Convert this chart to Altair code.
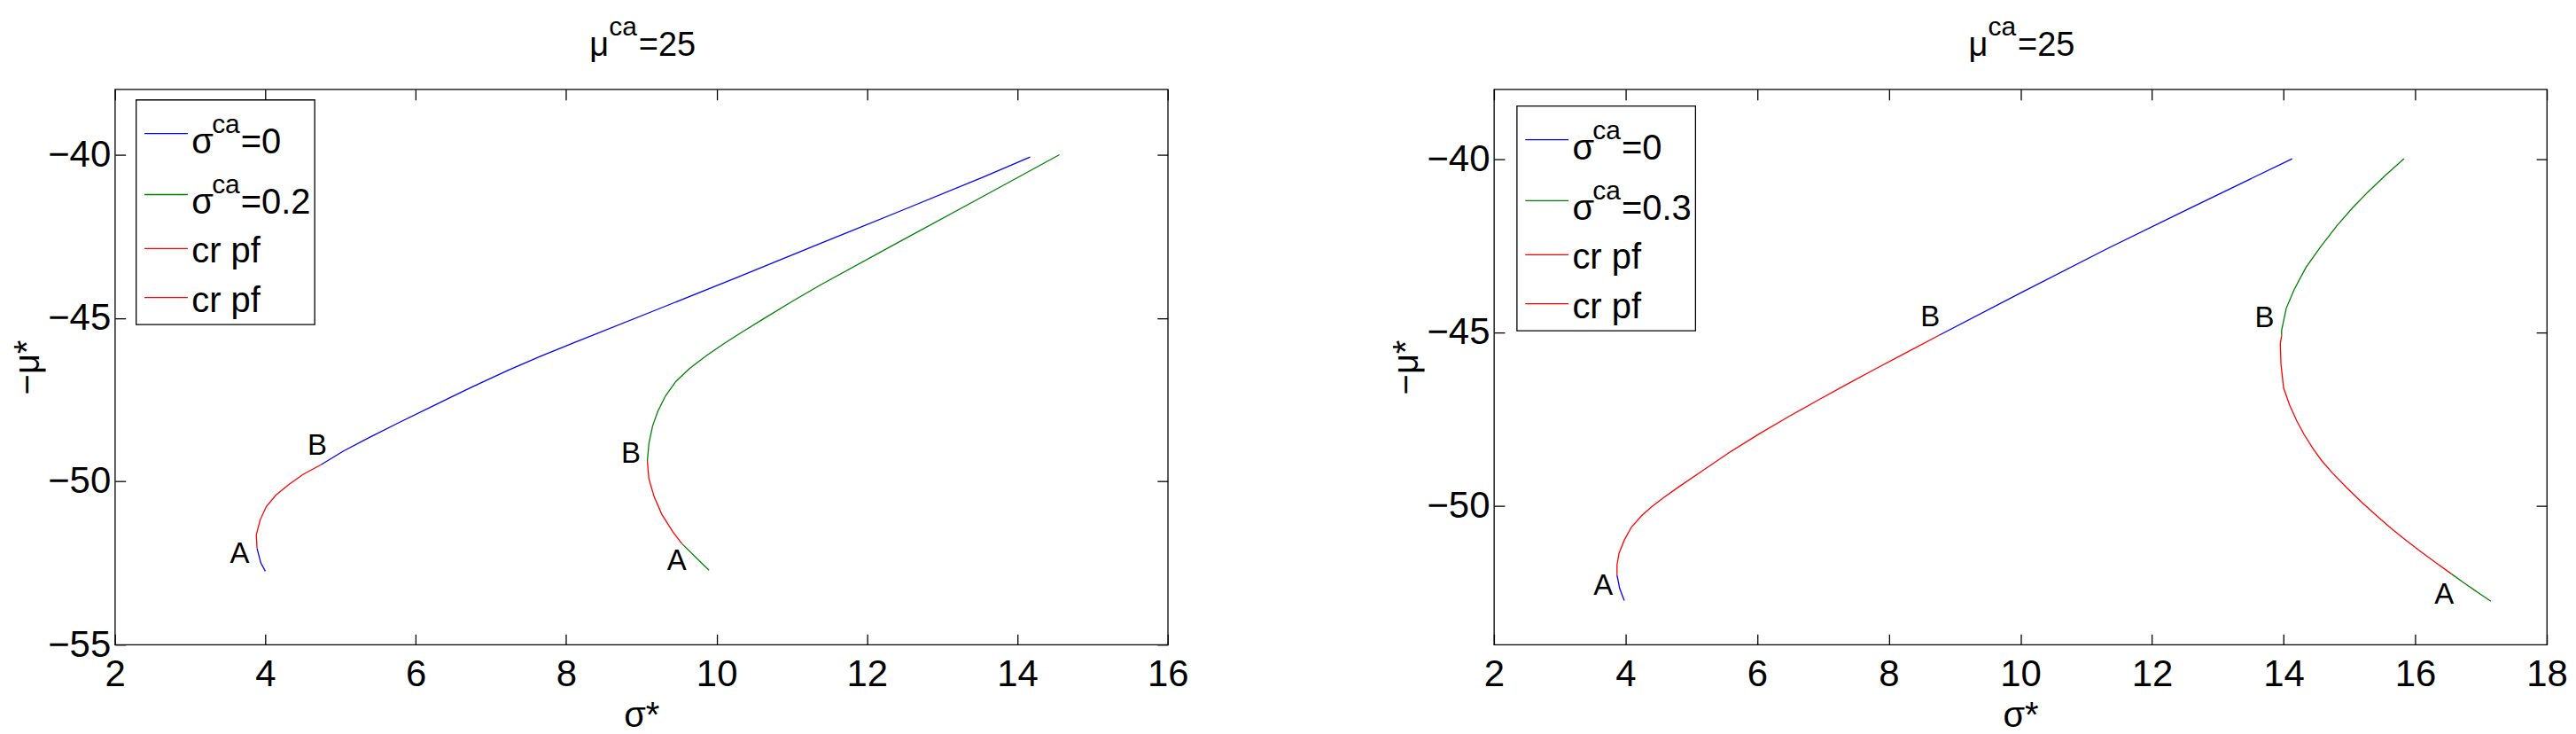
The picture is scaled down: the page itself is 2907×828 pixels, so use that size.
import altair as alt
import pandas as pd

FONT = "Liberation Sans, Arial, Helvetica, sans-serif"
BLUE, GREEN, RED = "#0000ff", "#008000", "#ff0000"

# ---------------- data ----------------
# Left panel (sigma_ca = 0 and 0.2)
L_X_TICKS = [2, 4, 6, 8, 10, 12, 14, 16]
L_Y_TICKS = [-55, -50, -45, -40]
L_X_DOMAIN = [2, 16]
L_Y_DOMAIN = [-55, -38]

L0_lo_x = [4.00, 3.94, 3.89]
L0_lo_y = [-52.75, -52.50, -52.05]
L0_cr_x = [3.89, 3.88, 3.93, 4.01, 4.14, 4.31, 4.50, 4.74]
L0_cr_y = [-52.05, -51.64, -51.19, -50.78, -50.42, -50.10, -49.79, -49.49]
L0_hi_x = [4.74, 5.04, 5.38, 5.77, 6.25, 6.74, 7.23, 7.66, 8.11, 9.20, 10.29, 11.38, 12.46, 13.55, 14.17]
L0_hi_y = [-49.49, -49.07, -48.66, -48.21, -47.67, -47.12, -46.60, -46.17, -45.75, -44.75, -43.74, -42.72, -41.71, -40.68, -40.07]

L2_lo_x = [9.90, 9.76, 9.54]
L2_lo_y = [-52.72, -52.41, -51.91]
L2_cr_x = [9.54, 9.42, 9.27, 9.17, 9.10, 9.08]
L2_cr_y = [-51.91, -51.55, -51.00, -50.47, -49.92, -49.38]
L2_hi_x = [9.08, 9.10, 9.15, 9.22, 9.32, 9.46, 9.64, 9.86, 10.10, 10.36, 10.62, 11.00, 11.38, 12.46, 13.55, 14.56]
L2_hi_y = [-49.38, -48.84, -48.30, -47.85, -47.39, -46.94, -46.55, -46.16, -45.78, -45.40, -45.03, -44.50, -43.99, -42.63, -41.27, -40.00]

L_LAB_X = [3.66, 4.69, 9.47, 8.86]
L_LAB_Y = [-52.22, -48.92, -52.45, -49.16]
L_LAB_T = ["A", "B", "A", "B"]

# Right panel (sigma_ca = 0 and 0.3)
R_X_TICKS = [2, 4, 6, 8, 10, 12, 14, 16, 18]
R_Y_TICKS = [-50, -45, -40]
R_X_DOMAIN = [2, 18]
R_Y_DOMAIN = [-54, -38]

R0_lo_x = [3.98, 3.91, 3.87]
R0_lo_y = [-52.73, -52.38, -52.00]
R0_cr_x = [3.87, 3.87, 3.90, 3.98, 4.09, 4.25, 4.40, 4.58, 4.81, 5.12, 5.57, 6.01, 6.46, 6.91, 7.36, 7.80, 8.25, 8.77]
R0_cr_y = [-52.00, -51.70, -51.37, -50.99, -50.61, -50.27, -50.02, -49.76, -49.45, -49.05, -48.47, -47.95, -47.45, -46.97, -46.50, -46.05, -45.60, -45.08]
R0_hi_x = [8.77, 10.07, 11.32, 12.57, 14.13]
R0_hi_y = [-45.08, -43.80, -42.59, -41.43, -40.00]

R3_lo_x = [17.15, 16.98, 16.75, 16.55]
R3_lo_y = [-52.75, -52.53, -52.23, -51.96]
R3_cr_x = [16.55, 16.30, 16.08, 15.86, 15.63, 15.41, 15.19, 14.96, 14.74, 14.58, 14.45, 14.31, 14.20, 14.09, 14.00, 13.96, 13.95, 13.97]
R3_cr_y = [-51.96, -51.62, -51.31, -50.99, -50.64, -50.28, -49.90, -49.48, -49.05, -48.70, -48.36, -47.94, -47.55, -47.09, -46.60, -45.92, -45.33, -45.09]
R3_hi_x = [13.97, 13.97, 14.04, 14.16, 14.34, 14.56, 14.81, 15.05, 15.28, 15.54, 15.83]
R3_hi_y = [-45.09, -44.94, -44.31, -43.77, -43.13, -42.54, -41.93, -41.41, -40.96, -40.49, -40.00]

R_LAB_X = [3.66, 8.63, 16.44, 13.71]
R_LAB_Y = [-52.30, -44.57, -52.56, -44.60]
R_LAB_T = ["A", "B", "A", "B"]

TITLE_BASE, TITLE_SUP, TITLE_REST = "μ", "ca", "=25"
X_TITLE = "σ*"
Y_TITLE = "−μ*"

LEG_COLORS = [BLUE, GREEN, RED, RED]
L_LEG_BASE = ["σ", "σ", "cr pf", "cr pf"]
L_LEG_SUP = ["ca", "ca", "", ""]
L_LEG_REST = ["=0", "=0.2", "", ""]
R_LEG_BASE = ["σ", "σ", "cr pf", "cr pf"]
R_LEG_SUP = ["ca", "ca", "", ""]
R_LEG_REST = ["=0", "=0.3", "", ""]

# ---------------- layout constants ----------------
W, H = 1191, 628
FS = 40
LFS = 42
TICK = 12


def seg_frame(segs):
    rows = []
    for i, (xs, ys, col) in enumerate(segs):
        for j, (x, y) in enumerate(zip(xs, ys)):
            rows.append({"x": x, "y": y, "seg": f"s{i}", "col": col, "ord": j})
    return pd.DataFrame(rows)


def txt(one, text, x, y, size):
    return alt.Chart(one).mark_text(text=text, align="left", baseline="alphabetic",
                                    fontSize=size, font=FONT, color="black").encode(
        x=alt.value(x), y=alt.value(y))


def panel(segs, lab, xd, yd, xt, yt, leg, lorig):
    df = seg_frame(segs)
    xs = alt.Scale(domain=xd, nice=False, zero=False)
    ys = alt.Scale(domain=yd, nice=False, zero=False)
    common = dict(domain=False, tickSize=TICK, offset=-TICK, tickColor="black",
                  tickWidth=1.3, grid=False, labelFontSize=LFS, labelFont=FONT,
                  labelColor="black", titleFontSize=FS, titleFont=FONT,
                  titleColor="black", titleFontWeight="normal",
                  labelFlush=False, labelOverlap=False, labelBound=False)
    lines = alt.Chart(df).mark_line(strokeWidth=1.3).encode(
        x=alt.X("x:Q", scale=xs, axis=alt.Axis(values=xt, orient="bottom", title=X_TITLE,
                                                labelPadding=13, titlePadding=6, **common)),
        y=alt.Y("y:Q", scale=ys, axis=alt.Axis(values=yt, orient="left", title=Y_TITLE,
                                                labelPadding=5, titlePadding=2, **common)),
        color=alt.Color("col:N", scale=None),
        detail="seg:N",
        order="ord:Q",
    )
    labdf = pd.DataFrame({"x": lab[0], "y": lab[1], "t": lab[2]})
    labels = alt.Chart(labdf).mark_text(fontSize=33, font=FONT, color="black").encode(
        x=alt.X("x:Q", scale=xs, axis=alt.Axis(values=xt, orient="top", labels=False, title=None, **common)),
        y=alt.Y("y:Q", scale=ys, axis=alt.Axis(values=yt, orient="right", labels=False, title=None, **common)),
        text="t:N",
    )
    one = pd.DataFrame({"d": [0]})
    layers = [lines, labels]
    ox, oy = lorig
    layers.append(alt.Chart(one).mark_rect(fill="white", stroke="black", strokeWidth=1.3).encode(
        x=alt.value(ox), x2=alt.value(ox + 202), y=alt.value(oy), y2=alt.value(oy + 254)))
    row_y = [38, 107, 168, 223.5]
    bases, sups, rests = leg
    for i in range(4):
        ly = oy + row_y[i]
        layers.append(alt.Chart(one).mark_rule(color=LEG_COLORS[i], strokeWidth=1.3).encode(
            x=alt.value(ox + 9.4), x2=alt.value(ox + 58.4), y=alt.value(ly)))
        if sups[i]:
            layers.append(txt(one, bases[i], ox + 62.7, ly + 22, FS))
            layers.append(txt(one, sups[i], ox + 85.7, ly - 1, 30))
            layers.append(txt(one, rests[i], ox + 118.4, ly + 22, FS))
        else:
            layers.append(txt(one, bases[i], ox + 62.7, ly + 16, FS))
    cx = W / 2
    layers.append(txt(one, TITLE_BASE, cx - 58.6, -38, 38))
    layers.append(txt(one, TITLE_SUP, cx - 36.6, -61, 30))
    layers.append(txt(one, TITLE_REST, cx - 3, -38, 38))
    return alt.layer(*layers).resolve_axis(x="independent", y="independent").properties(width=W, height=H)


left = panel(
    [(L0_lo_x, L0_lo_y, BLUE), (L0_cr_x, L0_cr_y, RED), (L0_hi_x, L0_hi_y, BLUE),
     (L2_lo_x, L2_lo_y, GREEN), (L2_cr_x, L2_cr_y, RED), (L2_hi_x, L2_hi_y, GREEN)],
    (L_LAB_X, L_LAB_Y, L_LAB_T), L_X_DOMAIN, L_Y_DOMAIN, L_X_TICKS, L_Y_TICKS,
    (L_LEG_BASE, L_LEG_SUP, L_LEG_REST), (24, 12))

right = panel(
    [(R0_lo_x, R0_lo_y, BLUE), (R0_cr_x, R0_cr_y, RED), (R0_hi_x, R0_hi_y, BLUE),
     (R3_lo_x, R3_lo_y, GREEN), (R3_cr_x, R3_cr_y, RED), (R3_hi_x, R3_hi_y, GREEN)],
    (R_LAB_X, R_LAB_Y, R_LAB_T), R_X_DOMAIN, R_Y_DOMAIN, R_X_TICKS, R_Y_TICKS,
    (R_LEG_BASE, R_LEG_SUP, R_LEG_REST), (26, 19))

chart = alt.hconcat(left, right, spacing=225).properties(
    padding={"left": 3, "top": 6, "right": 0, "bottom": 0}
).configure(font=FONT).configure_view(stroke="black", strokeWidth=1.3)

chart.save("out.html", embed_options={"renderer": "svg", "actions": False})
